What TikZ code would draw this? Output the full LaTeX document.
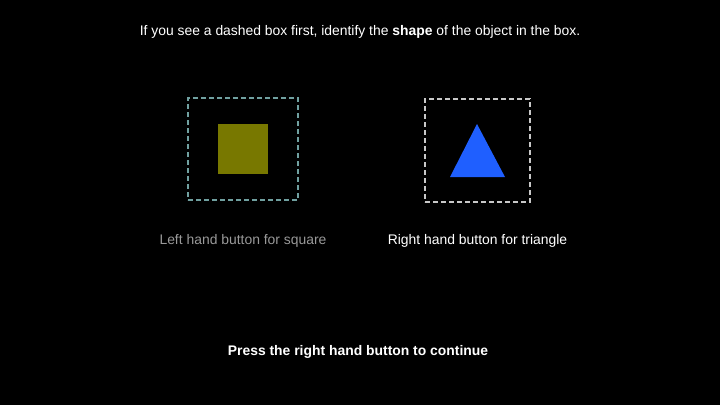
\documentclass[tikz,border=0pt]{standalone}
\usepackage{fontspec}
\setmainfont{Liberation Sans}
\usetikzlibrary{positioning}
\definecolor{olivebox}{HTML}{787800}
\definecolor{tealdash}{HTML}{70A0A0}
\definecolor{greydash}{HTML}{C8C8C8}
\definecolor{triblue}{HTML}{1F5FFF}
\definecolor{dimtext}{HTML}{999999}
\begin{document}
\begin{tikzpicture}[x=1pt, y=-1pt, font=\fontsize{13.9}{16}\selectfont,
    frame/.style={draw, line width=1.4pt, dash pattern=on 5pt off 3pt, minimum width=#1, inner sep=0pt},
    hd/.style={text=white, anchor=center},
    lbl/.style={anchor=center}
]
    \fill[black] (0,0) rectangle (720,405);
    \useasboundingbox (0,0) rectangle (720,405);
    \node[hd] (title) at (360,32) {If you see a dashed box first, identify the \textbf{shape} of the object in the box.};
    % left option
    \node[frame=110pt, minimum height=102pt, draw=tealdash] (lbox) at (243,149) {};
    \node[fill=olivebox, minimum size=50pt, inner sep=0pt] (sq) at (lbox.center) {};
    \node[lbl, text=dimtext, below=30pt of lbox.south] (lhint) {Left hand button for square};
    % right option
    \node[frame=105pt, minimum height=103pt, draw=greydash] (rbox) at (477.5,150.5) {};
    \coordinate (tip) at (477,124);
    \coordinate (bl) at (450,177);
    \coordinate (br) at (505,177);
    \fill[triblue] (tip) -- (br) -- (bl) -- cycle;
    \node[lbl, text=white, below=28pt of rbox.south] (rhint) {Right hand button for triangle};
    \node[hd, font=\fontsize{13.9}{16}\selectfont\bfseries] (cont) at (358,352) {Press the right hand button to continue};
\end{tikzpicture}
\end{document}
